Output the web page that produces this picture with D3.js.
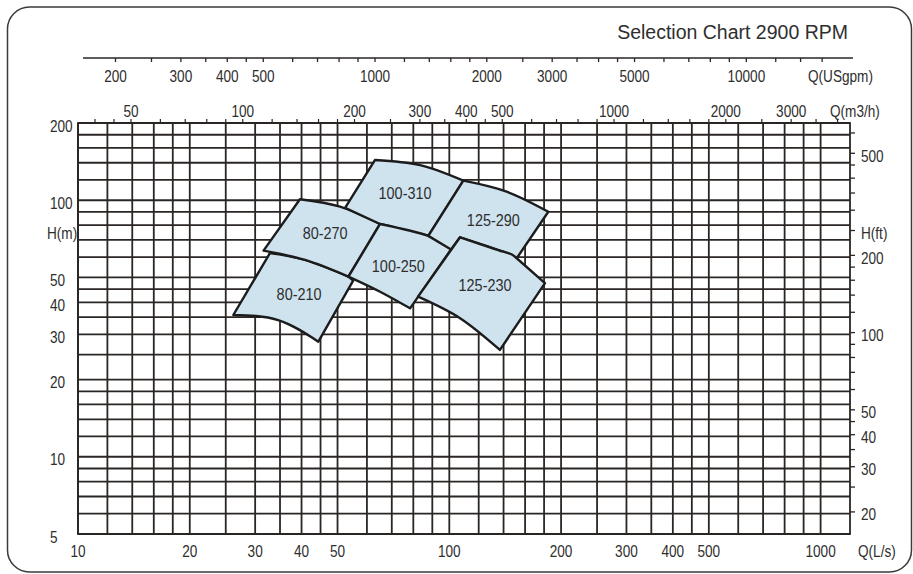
<!DOCTYPE html>
<html>
<head>
<meta charset="utf-8">
<script src="https://cdn.jsdelivr.net/npm/d3@7"></script>
<style>
  html, body { margin: 0; padding: 0; background: #fff; }
  svg { display: block; }
</style>
</head>
<body>
<script>
// bottom axis Q in L/s, left axis H in m; the other axes are unit conversions
const flowLabelsLs = [10, 20, 30, 40, 50, 100, 200, 300, 400, 500, 1000];
const flowLabelsM3h = [50, 100, 200, 300, 400, 500, 1000, 2000, 3000];
const flowTicksM3h = [40, 45, 50, 60, 70, 80, 90, 100, 120, 140, 160, 180, 200, 250, 300, 350,
  400, 450, 500, 600, 700, 800, 900, 1000, 1200, 1400, 1600, 1800, 2000, 2500, 3000, 3500, 4000];
const flowLabelsGpm = [200, 300, 400, 500, 1000, 2000, 3000, 5000, 10000];
const flowTicksGpm = [200, 250, 300, 350, 400, 450, 500, 600, 700, 800, 900, 1000, 1200, 1400,
  1600, 1800, 2000, 2500, 3000, 3500, 4000, 4500, 5000, 6000, 7000, 8000, 9000, 10000, 12000,
  14000, 16000];
const headLabelsM = [200, 100, 50, 40, 30, 20, 10, 5];
const headLabelsFt = [500, 200, 100, 50, 40, 30, 20];
const headTicksFt = [600, 500, 450, 400, 350, 300, 250, 200, 180, 160, 140, 120, 100, 90, 80,
  70, 60, 50, 45, 40, 35, 30, 25, 20];
const gridFlowLs = [10, 12, 14, 16, 18, 20, 25, 30, 35, 40, 45, 50, 60, 70, 80, 90, 100, 120,
  140, 160, 180, 200, 250, 300, 350, 400, 450, 500, 600, 700, 800, 900, 1000];
const gridHeadM = [5, 6, 7, 8, 9, 10, 12, 14, 16, 18, 20, 25, 30, 35, 40, 45, 50, 60, 70, 80,
  90, 100, 120, 140, 160, 180, 200];

// pump coverage areas: each outline is a list of edges of [Q L/s, H m] points
const pumpModels = ["80-210", "80-270", "100-310", "100-250", "125-290", "125-230"];
const pumpLabelAt = [[39.4, 43.1], [46.3, 74.3], [76.0, 107], [72.9, 55.4], [131.4, 83.8], [124.8, 46.7]];
const pumpOutlines = [
  [
    [[32.9, 62.3], [40.9, 58.5], [53.5, 50.4]],
    [[53.5, 50.4], [55.1, 48.6]],
    [[55.1, 48.6], [44.4, 28.1]],
    [[44.4, 28.1], [34.6, 34.1], [26.2, 35.7]],
    [[26.2, 35.7], [32.9, 62.3]],
  ],
  [
    [[39.6, 100.9], [50.8, 94.4], [65.1, 80.8]],
    [[65.1, 80.8], [53.5, 50.4]],
    [[53.5, 50.4], [40.9, 58.5], [31.6, 63.6]],
    [[31.6, 63.6], [39.6, 100.9]],
  ],
  [
    [[63.1, 143.5], [83.4, 137], [109.1, 119.2]],
    [[109.1, 119.2], [87.8, 72.6]],
    [[87.8, 72.6], [65.1, 80.8]],
    [[65.1, 80.8], [52.4, 93.3]],
    [[52.4, 93.3], [63.1, 143.5]],
  ],
  [
    [[65.1, 80.8], [87.8, 72.6], [101.1, 64.3]],
    [[101.1, 64.3], [78.4, 37.9]],
    [[78.4, 37.9], [65.1, 44.0], [53.5, 50.4]],
    [[53.5, 50.4], [65.1, 80.8]],
  ],
  [
    [[109.1, 119.2], [142.7, 108], [184.8, 90.2]],
    [[184.8, 90.2], [151.9, 59.4]],
    [[151.9, 59.4], [139.8, 63.0], [106.9, 71.7]],
    [[106.9, 71.7], [101.1, 64.3]],
    [[101.1, 64.3], [87.8, 72.6]],
    [[87.8, 72.6], [109.1, 119.2]],
  ],
  [
    [[106.9, 71.7], [139.8, 63.0], [151.9, 59.4], [181.0, 47.5]],
    [[181.0, 47.5], [136.9, 26.1]],
    [[136.9, 26.1], [106.9, 34.7], [82.4, 42.1]],
    [[82.4, 42.1], [106.9, 71.7]],
  ],
];

const LS_TO_M3H = 3.6;
const LS_TO_GPM = 15.85;
const M_TO_FT = 3.28084;

const width = 913;
const height = 574;
const ink = "#2a2624";
// the print uses a condensed face; squeeze Liberation Sans to match
const squeeze = 0.8;

const x = d3.scaleLog().domain([10, 1200]).range([78, 850]);
const y = d3.scaleLog().domain([5, 200]).range([534, 123]);
const [x0, x1] = x.range();
const [y0, y1] = y.range();

const svg = d3
  .select("body")
  .append("svg")
  .attr("width", width)
  .attr("height", height)
  .attr("font-family", "'Liberation Sans', Arial, sans-serif")
  .attr("font-size", 17)
  .attr("fill", "#2e2e2e");

// text placed by transform so it can be narrowed around its anchor
function labels(data, fx, fy, anchor = "start", k = squeeze) {
  return svg
    .append("g")
    .attr("text-anchor", anchor)
    .selectAll("text")
    .data(data)
    .join("text")
    .attr("transform", (d, i) => `translate(${fx(d, i)},${fy(d, i)}) scale(${k},1)`)
    .text((d) => d);
}

svg
  .append("rect")
  .attr("x", 7.5)
  .attr("y", 7)
  .attr("width", 904)
  .attr("height", 565)
  .attr("rx", 22)
  .attr("fill", "#fff")
  .attr("stroke", "#3a3a3a")
  .attr("stroke-width", 1.5);

svg
  .append("text")
  .attr("x", 848)
  .attr("y", 39)
  .attr("text-anchor", "end")
  .attr("font-size", 19.5)
  .text("Selection Chart 2900 RPM");

// US gpm axis, a free line above the chart
const gpmY = 58;
svg
  .append("line")
  .attr("x1", x0 + 5)
  .attr("x2", x1 + 3)
  .attr("y1", gpmY)
  .attr("y2", gpmY)
  .attr("stroke", ink)
  .attr("stroke-width", 1.5);

svg
  .append("g")
  .selectAll("line")
  .data(flowTicksGpm)
  .join("line")
  .attr("x1", (d) => x(d / LS_TO_GPM))
  .attr("x2", (d) => x(d / LS_TO_GPM))
  .attr("y1", gpmY)
  .attr("y2", gpmY + 4)
  .attr("stroke", ink)
  .attr("stroke-width", 1.3);

labels(flowLabelsGpm, (d) => x(d / LS_TO_GPM), () => 82, "middle");
labels(["Q(USgpm)"], () => 808, () => 82);

// m3/h ticks sit on top of the grid
svg
  .append("g")
  .selectAll("line")
  .data(flowTicksM3h)
  .join("line")
  .attr("x1", (d) => x(d / LS_TO_M3H))
  .attr("x2", (d) => x(d / LS_TO_M3H))
  .attr("y1", y1)
  .attr("y2", y1 - 4)
  .attr("stroke", ink)
  .attr("stroke-width", 1.2);

labels(flowLabelsM3h, (d) => x(d / LS_TO_M3H), () => 116.5, "middle");
labels(["Q(m3/h)"], () => 830, () => 116.5);

// grid
const grid = svg
  .append("g")
  .attr("stroke", ink)
  .attr("stroke-width", 1.8);

grid
  .selectAll(".v")
  .data(gridFlowLs)
  .join("line")
  .attr("class", "v")
  .attr("x1", (d) => x(d))
  .attr("x2", (d) => x(d))
  .attr("y1", y0)
  .attr("y2", y1);

grid
  .selectAll(".h")
  .data(gridHeadM)
  .join("line")
  .attr("class", "h")
  .attr("x1", x0)
  .attr("x2", x1)
  .attr("y1", (d) => y(d))
  .attr("y2", (d) => y(d));

grid
  .append("rect")
  .attr("x", x0)
  .attr("y", y1)
  .attr("width", x1 - x0)
  .attr("height", y0 - y1)
  .attr("fill", "none");

// left H(m) labels
labels(headLabelsM, () => 50, (d) => y(d) + 8.5);
labels(["H(m)"], () => 47, () => y(250 / M_TO_FT) + 8.5);

// right H(ft) axis
svg
  .append("g")
  .selectAll("line")
  .data(headTicksFt)
  .join("line")
  .attr("x1", x1)
  .attr("x2", x1 + 5)
  .attr("y1", (d) => y(d / M_TO_FT))
  .attr("y2", (d) => y(d / M_TO_FT))
  .attr("stroke", ink)
  .attr("stroke-width", 1.3);

labels(headLabelsFt, () => 861, (d) => y(d / M_TO_FT) + 8.5);
labels(["H(ft)"], () => 861, () => y(250 / M_TO_FT) + 8.5);

// bottom Q(L/s) labels
labels(flowLabelsLs, (d) => x(d), () => 556.5, "middle");
labels(["Q(L/s)"], () => 858, () => 556.5);

// pump areas
const edge = d3
  .line()
  .x((d) => x(d[0]))
  .y((d) => y(d[1]))
  .curve(d3.curveNatural);

const outlinePath = (edges) =>
  edges.map((e, i) => (i ? edge(e).replace(/^M/, "L") : edge(e))).join("") + "Z";

svg
  .append("g")
  .selectAll("path")
  .data(pumpOutlines)
  .join("path")
  .attr("d", outlinePath)
  .attr("fill", "#cfe3ef")
  .attr("stroke", "#1c1c1c")
  .attr("stroke-width", 2.4)
  .attr("stroke-linejoin", "round");

labels(
  pumpModels,
  (d, i) => x(pumpLabelAt[i][0]),
  (d, i) => y(pumpLabelAt[i][1]) + 6,
  "middle",
  0.85
);
</script>
</body>
</html>
